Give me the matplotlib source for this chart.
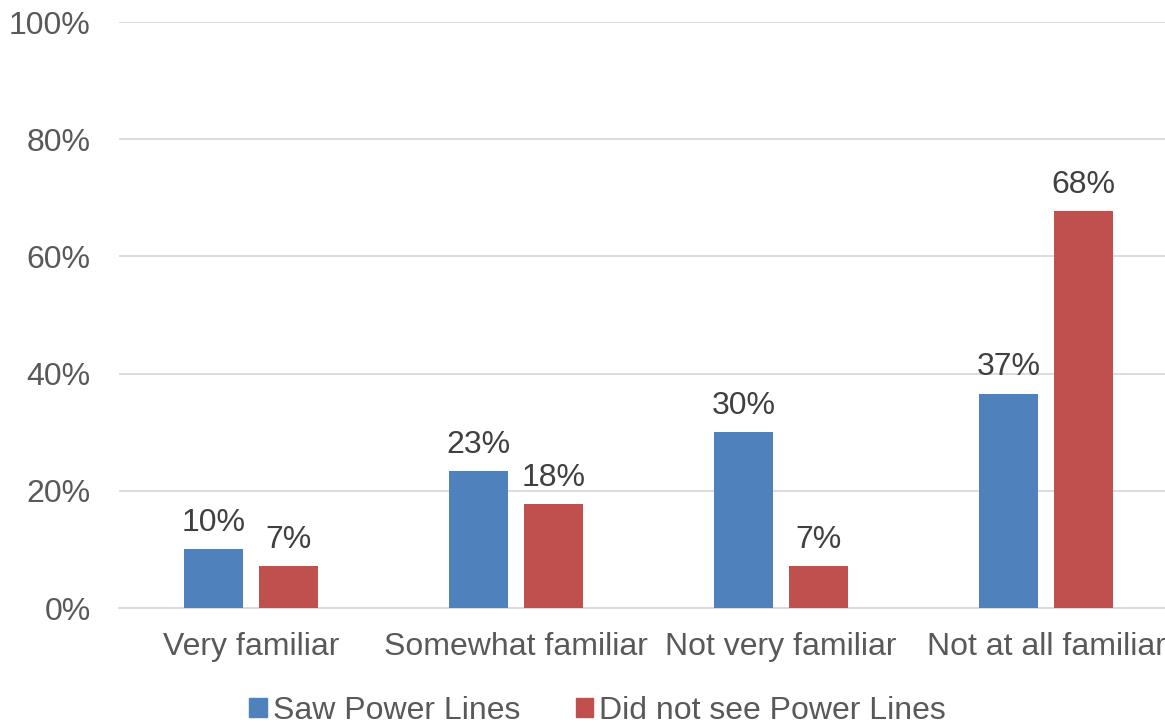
import numpy as np
import matplotlib.pyplot as plt
from matplotlib.patches import Patch

categories = ['Very familiar', 'Somewhat familiar', 'Not very familiar', 'Not at all familiar']
saw = [10.0, 23.3, 30.0, 36.6]
did_not_see = [7.1, 17.8, 7.1, 67.8]
series_names = ['Saw Power Lines', 'Did not see Power Lines']
yticks = [0, 20, 40, 60, 80, 100]


def main():
    plt.rcParams['font.family'] = ['Liberation Sans', 'DejaVu Sans']
    fig = plt.figure(figsize=(11.65, 7.24), dpi=100)
    ax = fig.add_axes([118.5 / 1165, 0.1602, 1060 / 1165, 0.8094])

    blue, red = '#4F81BD', '#C0504D'
    fs = 23
    x = np.arange(len(categories))
    width = 0.223
    off = 0.1415
    b1 = ax.bar(x - off, saw, width, color=blue, zorder=3)
    b2 = ax.bar(x + off, did_not_see, width, color=red, zorder=3)

    for bars, vals in ((b1, saw), (b2, did_not_see)):
        for rect, v in zip(bars, vals):
            ax.annotate(f'{v:.0f}%', (rect.get_x() + rect.get_width() / 2, v),
                        xytext=(0, 13), textcoords='offset points',
                        ha='center', va='baseline', fontsize=fs, color='#404040')

    ax.set_xlim(-0.5, 3.5)
    ax.set_ylim(0, 100)
    ax.set_yticks(yticks)
    ax.set_yticklabels([f'{t}%' for t in yticks])
    ax.set_xticks(x)
    ax.set_xticklabels(categories)
    ax.tick_params(axis='both', length=0, labelsize=fs, labelcolor='#595959')
    ax.tick_params(axis='y', pad=20)
    ax.tick_params(axis='x', pad=17)
    ax.grid(axis='y', color='#D9D9D9', linewidth=1.3, zorder=0)
    for s in ('top', 'right', 'left'):
        ax.spines[s].set_visible(False)
    ax.spines['bottom'].set_color('#D9D9D9')
    ax.spines['bottom'].set_linewidth(1.3)

    handles = [Patch(color=blue), Patch(color=red)]
    fig.legend(handles, series_names, loc='center', bbox_to_anchor=(0.513, 0.018),
               ncol=2, frameon=False, fontsize=fs, labelcolor='#595959',
               handlelength=0.55, handleheight=0.55, handletextpad=0.18, columnspacing=1.75)

    plt.savefig('out.png', dpi=100)
    plt.close()


if __name__ == '__main__':
    main()
